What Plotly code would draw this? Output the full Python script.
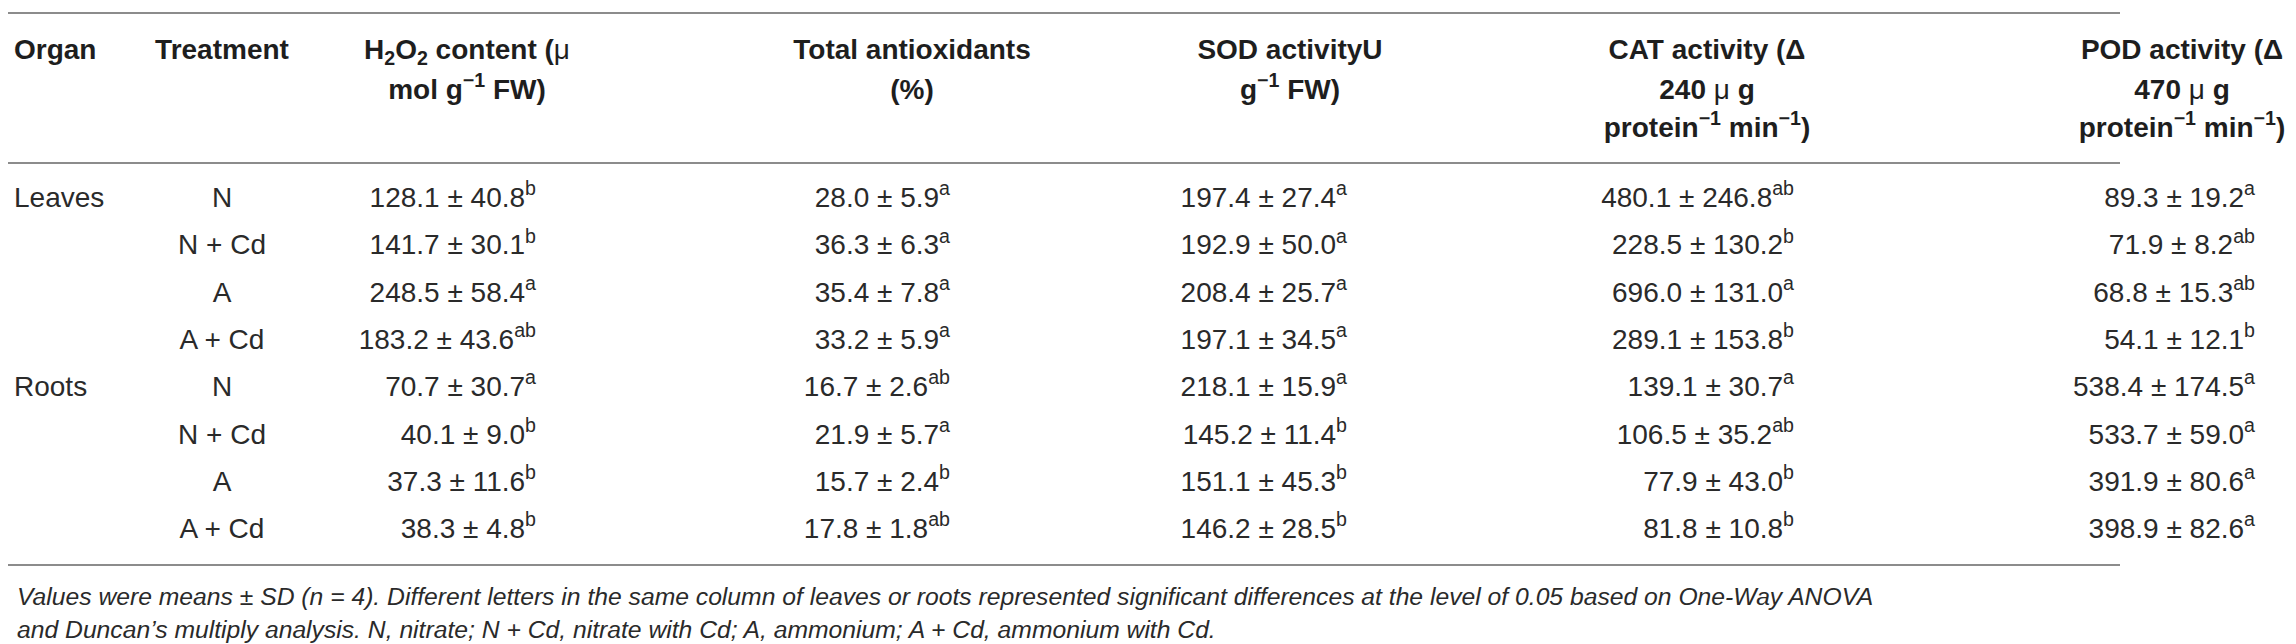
import plotly.graph_objects as go

# table contents
organs = ["Leaves", "", "", "", "Roots", "", "", ""]
treatments = ["N", "N + Cd", "A", "A + Cd", "N", "N + Cd", "A", "A + Cd"]

h2o2_mean = [128.1, 141.7, 248.5, 183.2, 70.7, 40.1, 37.3, 38.3]
h2o2_sd = [40.8, 30.1, 58.4, 43.6, 30.7, 9.0, 11.6, 4.8]
h2o2_sig = ["b", "b", "a", "ab", "a", "b", "b", "b"]

total_mean = [28.0, 36.3, 35.4, 33.2, 16.7, 21.9, 15.7, 17.8]
total_sd = [5.9, 6.3, 7.8, 5.9, 2.6, 5.7, 2.4, 1.8]
total_sig = ["a", "a", "a", "a", "ab", "a", "b", "ab"]

sod_mean = [197.4, 192.9, 208.4, 197.1, 218.1, 145.2, 151.1, 146.2]
sod_sd = [27.4, 50.0, 25.7, 34.5, 15.9, 11.4, 45.3, 28.5]
sod_sig = ["a", "a", "a", "a", "a", "b", "b", "b"]

cat_mean = [480.1, 228.5, 696.0, 289.1, 139.1, 106.5, 77.9, 81.8]
cat_sd = [246.8, 130.2, 131.0, 153.8, 30.7, 35.2, 43.0, 10.8]
cat_sig = ["ab", "b", "a", "b", "a", "ab", "b", "b"]

pod_mean = [89.3, 71.9, 68.8, 54.1, 538.4, 533.7, 391.9, 398.9]
pod_sd = [19.2, 8.2, 15.3, 12.1, 174.5, 59.0, 80.6, 82.6]
pod_sig = ["a", "ab", "ab", "b", "a", "a", "a", "a"]

header_1 = ["<b>Treatment</b>", "<b>H<sub>2</sub>O<sub>2</sub> content (</b>μ",
            "<b>Total antioxidants</b>", "<b>SOD activityU</b>",
            "<b>CAT activity (Δ</b>", "<b>POD activity (Δ</b>"]
header_2 = ["", "<b>mol g<sup>−1</sup> FW)</b>", "<b>(%)</b>", "<b>g<sup>−1</sup> FW)</b>",
            "<b>240 </b>μ<b> g</b>", "<b>470 </b>μ<b> g</b>"]
header_3 = ["", "", "", "", "<b>protein<sup>−1</sup> min<sup>−1</sup>)</b>",
            "<b>protein<sup>−1</sup> min<sup>−1</sup>)</b>"]

footnote = [
    "Values were means ± SD (n = 4). Different letters in the same column of leaves or roots "
    "represented significant differences at the level of 0.05 based on One-Way ANOVA",
    "and Duncan’s multiply analysis. N, nitrate; N + Cd, nitrate with Cd; A, ammonium; "
    "A + Cd, ammonium with Cd.",
]

# layout in pixels of the 2296x644 page
W, H = 2296, 644
ROW0, ROW_H = 192, 47.3
RULE_END = 2112


def row_of(px):
    return (px - ROW0) / ROW_H


rows = list(range(len(treatments)))
header_x = [214, 459, 904, 1282, 1699, 2174]
value_right = [528, 942, 1339, 1786, 2247]

TXT = "#2a2a2a"
HEAD = "#1e1e1e"
FONT = "Liberation Sans, Arial, sans-serif"
fs_data = 28
fs_head = 28


def cells(means, sds, sigs):
    return [f"{m:.1f} ± {s:.1f}<sup>{g}</sup>" for m, s, g in zip(means, sds, sigs)]


fig = go.Figure()

# header
fig.add_trace(go.Scatter(x=[6], y=[row_of(44)], text=["<b>Organ</b>"], mode="text",
                         textposition="middle right",
                         textfont=dict(size=fs_head, color=HEAD, family=FONT)))
for txt, py in [(header_1, 44), (header_2, 84), (header_3, 122)]:
    keep = [i for i, t in enumerate(txt) if t]
    fig.add_trace(go.Scatter(x=[header_x[i] for i in keep], y=[row_of(py)] * len(keep),
                             text=[txt[i] for i in keep],
                             mode="text", textposition="middle center",
                             textfont=dict(size=fs_head, color=HEAD, family=FONT)))

# body
org_rows = [r for r in rows if organs[r]]
fig.add_trace(go.Scatter(x=[6] * len(org_rows), y=org_rows, text=[organs[r] for r in org_rows],
                         mode="text", textposition="middle right",
                         textfont=dict(size=fs_data, color=TXT, family=FONT)))
fig.add_trace(go.Scatter(x=[header_x[0]] * len(rows), y=rows, text=treatments, mode="text",
                         textposition="middle center",
                         textfont=dict(size=fs_data, color=TXT, family=FONT)))

columns = [
    cells(h2o2_mean, h2o2_sd, h2o2_sig),
    cells(total_mean, total_sd, total_sig),
    cells(sod_mean, sod_sd, sod_sig),
    cells(cat_mean, cat_sd, cat_sig),
    cells(pod_mean, pod_sd, pod_sig),
]
for col, xr in zip(columns, value_right):
    fig.add_trace(go.Scatter(x=[xr] * len(rows), y=rows, text=col, mode="text",
                             textposition="middle left",
                             textfont=dict(size=fs_data, color=TXT, family=FONT)))

# rules
for py in [5, 155, 557]:
    fig.add_shape(type="line", xref="x", yref="y", x0=0, x1=RULE_END,
                  y0=row_of(py), y1=row_of(py), line=dict(color="#8c8c8c", width=2))

# footnote
for line, py in zip(footnote, [588, 621]):
    fig.add_annotation(x=7, y=row_of(py), xref="x", yref="y", text=f"<i>{line}</i>",
                       showarrow=False, xanchor="left", yanchor="middle",
                       font=dict(size=24.7, color=TXT, family=FONT))

fig.update_layout(
    width=W, height=H,
    margin=dict(l=0, r=0, t=0, b=0),
    paper_bgcolor="white", plot_bgcolor="white",
    showlegend=False,
    xaxis=dict(range=[0, W], visible=False, fixedrange=True),
    yaxis=dict(range=[row_of(H), row_of(0)], visible=False, fixedrange=True),
)

fig.write_html("out.html")
